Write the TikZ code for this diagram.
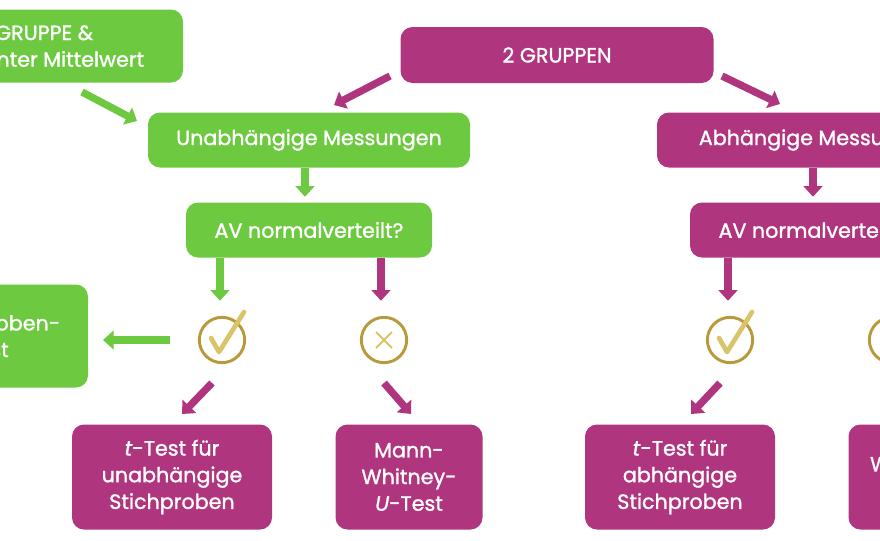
\documentclass[tikz,border=0pt]{standalone}
\usepackage{fontspec}
\setmainfont{Poppins}[FakeBold=1.3]
\usetikzlibrary{arrows.meta}
\definecolor{gr}{HTML}{6CC940}
\definecolor{mg}{HTML}{B0357F}
\definecolor{gold}{HTML}{D9C46A}
\definecolor{golddk}{HTML}{B89A3A}
\begin{document}
\begin{tikzpicture}[x=0.75pt,y=-0.75pt,
  box/.style={rounded corners=9pt,text=white,align=center,font=\fontsize{15.5}{20}\selectfont,inner sep=0pt},
  gbox/.style={box,fill=gr},
  mbox/.style={box,fill=mg},
  arr/.style={line width=5.5pt,-{Triangle[length=8pt,width=14pt]}},
  icon/.style={circle,draw=golddk,line width=2.2pt,minimum size=34pt,fill=white,inner sep=0pt}]
\useasboundingbox (0,0) rectangle (880,540);
\clip (0,0) rectangle (880,540);
\node[gbox,minimum width=290*0.75pt,minimum height=73*0.75pt] (g1) at (38,46) {1 GRUPPE \&\\bekannter Mittelwert};
\node[mbox,minimum width=313*0.75pt,minimum height=56*0.75pt] (g2) at (557,55) {2 GRUPPEN};
\node[gbox,minimum width=322*0.75pt,minimum height=55*0.75pt] (um) at (309,140) {Unabhängige Messungen};
\node[mbox,minimum width=322*0.75pt,minimum height=55*0.75pt] (am) at (818,140) {Abhängige Messungen};
\node[gbox,minimum width=246*0.75pt,minimum height=55*0.75pt] (nv1) at (309,230) {AV normalverteilt?};
\node[mbox,minimum width=246*0.75pt,minimum height=55*0.75pt] (nv2) at (813,230) {AV normalverteilt?};
\node[gbox,minimum width=220*0.75pt,minimum height=103*0.75pt] (ein) at (-22,336) {Einstich\-proben-\\\textit{t}-Test};
\node[mbox,minimum width=200*0.75pt,minimum height=105*0.75pt] (tu) at (172,477) {\textit{t}-Test für\\unabhängige\\Stichproben};
\node[mbox,minimum width=147*0.75pt,minimum height=105*0.75pt] (mw) at (409,477) {Mann-\\Whitney-\\\textit{U}-Test};
\node[mbox,minimum width=190*0.75pt,minimum height=105*0.75pt] (ta) at (680,477) {\textit{t}-Test für\\abhängige\\Stichproben};
\node[mbox,minimum width=147*0.75pt,minimum height=105*0.75pt] (wx) at (922,477) {Wilcoxon-\\Test};
% icons
\foreach \n/\x in {c1/222,c3/730}{
  \node[icon] (\n) at (\x,340) {};
  \draw[gold,line width=3.5pt,line cap=round,line join=round] (\x-11,338) -- (\x-3,352) -- (\x+22,312);
}
\foreach \n/\x in {c2/384,c4/892}{
  \node[icon] (\n) at (\x,340) {};
  \draw[gold,line width=1.4pt] (\x-8,332) -- (\x+8,348) (\x-8,348) -- (\x+8,332);
}
% arrows
\coordinate (a1) at (82,92); \coordinate (a1e) at (137,121);
\draw[arr,gr] (a1) -- (a1e);
\coordinate (b1) at (390,76); \coordinate (b1e) at (334,105);
\draw[arr,mg] (b1) -- (b1e);
\coordinate (b2) at (722,76); \coordinate (b2e) at (780,104);
\draw[arr,mg] (b2) -- (b2e);
\draw[arr,gr] (um.south -| 305,0) -- ++(0,29);
\draw[arr,mg] (am.south -| 813,0) -- ++(0,29);
\draw[arr,gr] (nv1.south -| 220,0) -- ++(0,43);
\draw[arr,mg] (nv1.south -| 381,0) -- ++(0,43);
\draw[arr,mg] (nv2.south -| 728,0) -- ++(0,43);
\coordinate (l1) at (170,340); \coordinate (l1e) at (103,340);
\draw[arr,gr] (l1) -- (l1e);
\coordinate (d1) at (212,383); \coordinate (d1e) at (182,414);
\draw[arr,mg] (d1) -- (d1e);
\coordinate (d2) at (384,383); \coordinate (d2e) at (411,414);
\draw[arr,mg] (d2) -- (d2e);
\coordinate (d3) at (720,383); \coordinate (d3e) at (691,414);
\draw[arr,mg] (d3) -- (d3e);
\end{tikzpicture}
\end{document}
